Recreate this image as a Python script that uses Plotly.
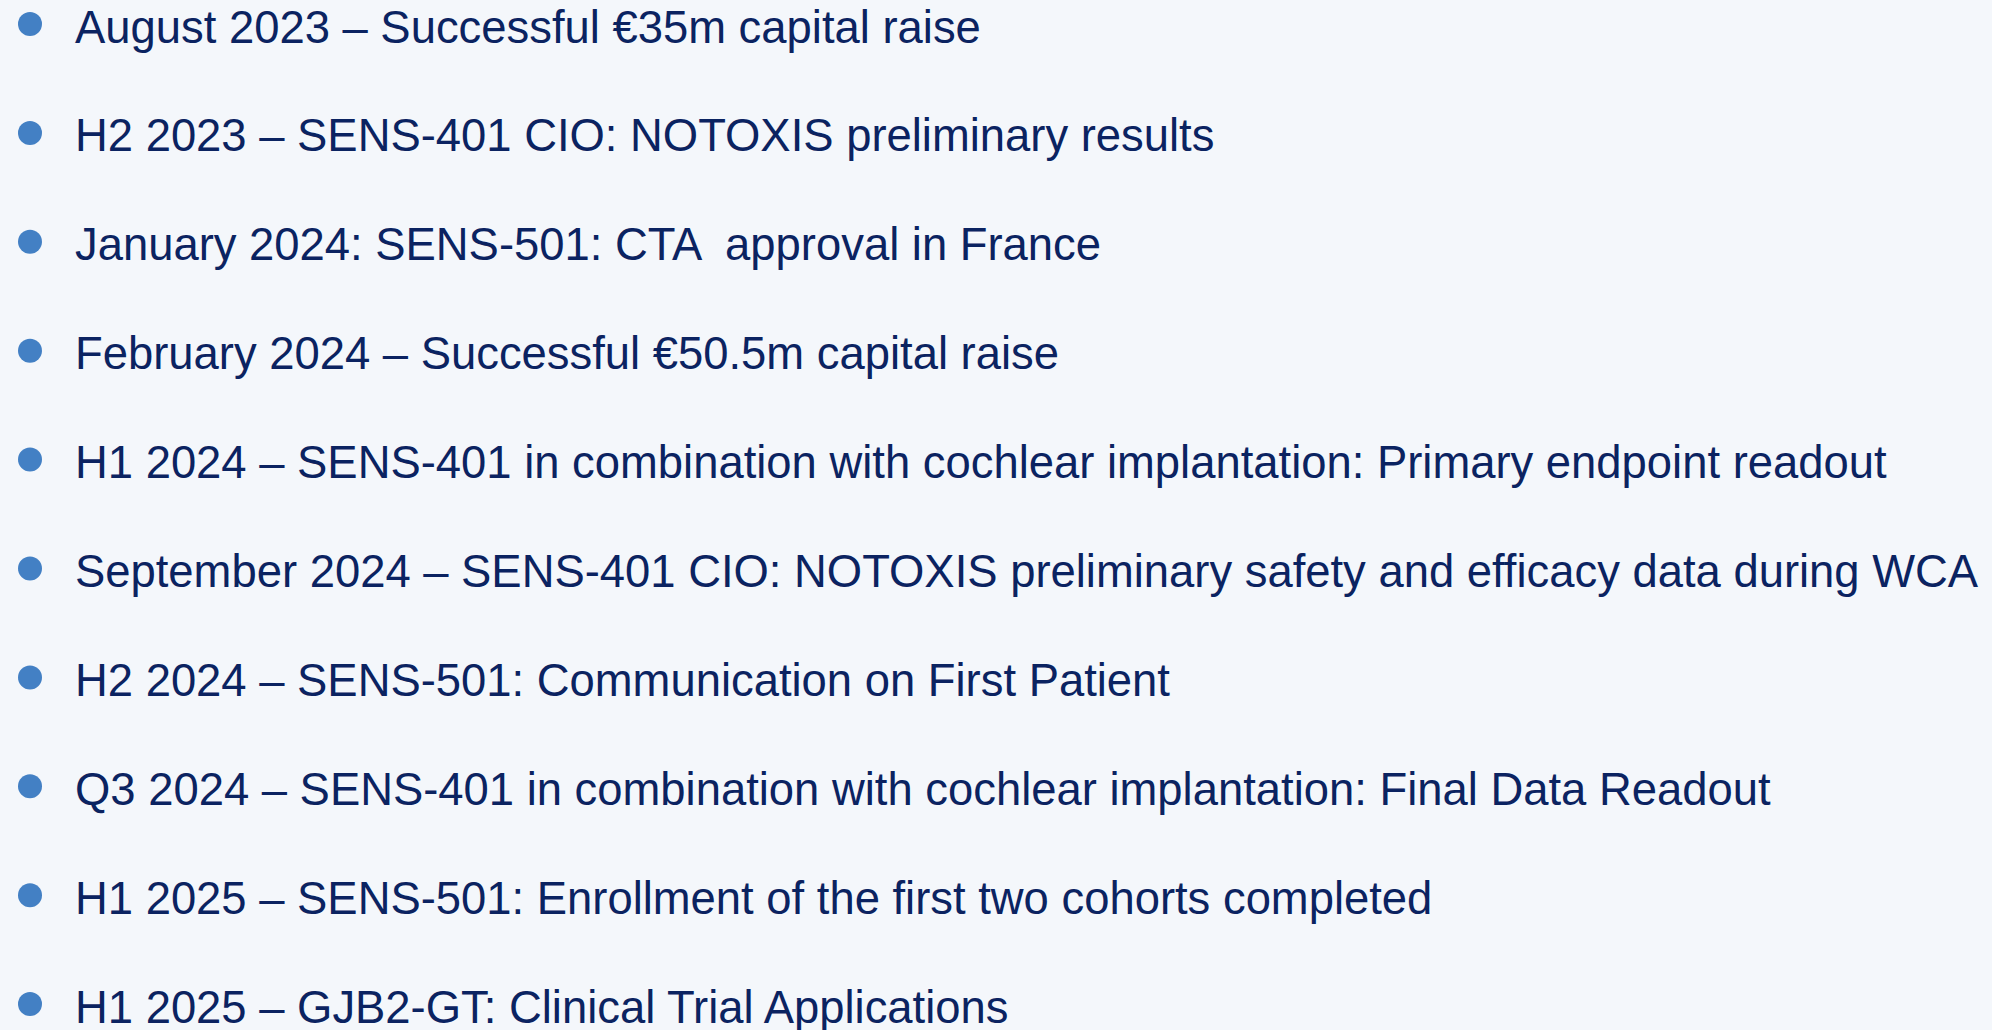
import plotly.graph_objects as go

items = [
    "August 2023 – Successful €35m capital raise",
    "H2 2023 – SENS-401 CIO: NOTOXIS preliminary results",
    "January 2024: SENS-501: CTA  approval in France",
    "February 2024 – Successful €50.5m capital raise",
    "H1 2024 – SENS-401 in combination with cochlear implantation: Primary endpoint readout",
    "September 2024 – SENS-401 CIO: NOTOXIS preliminary safety and efficacy data during WCA",
    "H2 2024 – SENS-501: Communication on First Patient",
    "Q3 2024 – SENS-401 in combination with cochlear implantation: Final Data Readout",
    "H1 2025 – SENS-501: Enrollment of the first two cohorts completed",
    "H1 2025 – GJB2-GT: Clinical Trial Applications",
]
idx = list(range(len(items)))

BG = "#F4F7FB"
TEXT = "#0B2361"
BULLET = "#4380C4"

W, H = 1992, 1030
top_px, step_px = 24.0, 108.9
y_top = -top_px / step_px
y_bot = (H - top_px) / step_px

fig = go.Figure()
fig.add_trace(go.Scatter(
    x=[30] * len(items), y=idx, mode="markers",
    marker=dict(size=24, color=BULLET, line=dict(width=0)),
    hoverinfo="skip", showlegend=False,
))
for i, t in zip(idx, items):
    fig.add_annotation(
        x=73, y=i, text=t, showarrow=False, xanchor="left", yanchor="middle",
        font=dict(family="Liberation Sans, Arial, sans-serif", size=45.4, color=TEXT),
        yshift=-3,
    )

fig.update_layout(
    width=W, height=H, margin=dict(l=0, r=0, t=0, b=0),
    paper_bgcolor=BG, plot_bgcolor=BG,
    xaxis=dict(range=[0, W], visible=False, fixedrange=True),
    yaxis=dict(range=[y_bot, y_top], visible=False, fixedrange=True),
)
fig.write_html(
    "out.html",
    config={"displayModeBar": False},
    post_script="document.body.style.margin='0';document.body.style.background='" + BG + "';",
)
